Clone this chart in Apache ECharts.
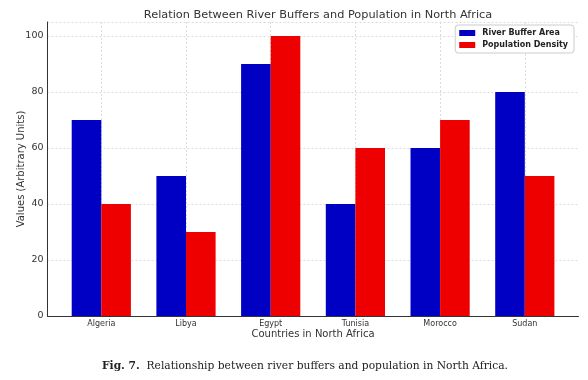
<!DOCTYPE html>
<html>
<head>
<meta charset="utf-8">
<script src="https://cdn.jsdelivr.net/npm/echarts@6/dist/echarts.min.js"></script>
<style>html,body{margin:0;padding:0;background:#fff}#c{width:588px;height:380px}</style>
</head>
<body>
<div id="c"></div>
<script>
const categories = ['Algeria', 'Libya', 'Egypt', 'Tunisia', 'Morocco', 'Sudan'];
const riverBufferArea = [70, 50, 90, 40, 60, 80];
const populationDensity = [40, 30, 100, 60, 70, 50];
const yTicks = [0, 20, 40, 60, 80, 100];

const chart = echarts.init(document.getElementById('c'), null, {renderer: 'canvas'});
const font = 'DejaVu Sans';
const grid = {color: '#d4d4d4', type: [2, 2], width: 0.8};
const axisLine = {show: true, lineStyle: {color: '#333', width: 1}};

chart.setOption({
  animation: false,
  backgroundColor: '#fff',
  title: [
    {text: 'Relation Between River Buffers and Population in North Africa', left: 313, textAlign: 'center', top: 5,
     textStyle: {fontFamily: font, fontSize: 11.3, fontWeight: 'normal', color: '#333'}},
    {text: '{b|Fig. 7.}  Relationship between river buffers and population in North Africa.', left: 97, top: 356,
     textStyle: {fontFamily: 'DejaVu Serif', fontSize: 10.7, fontWeight: 'normal', color: '#222',
       rich: {b: {fontFamily: 'DejaVu Serif', fontSize: 10.7, fontWeight: 'bold', color: '#222'}}}}
  ],
  legend: {
    orient: 'vertical', right: 14, top: 25, padding: [4, 6, 4, 4], itemGap: 4,
    itemWidth: 16, itemHeight: 6, borderColor: '#ccc', borderWidth: 1, borderRadius: 3,
    backgroundColor: '#fff', icon: 'rect',
    textStyle: {fontFamily: font, fontSize: 8, fontWeight: 'bold', color: '#222', padding: [0, 0, 0, 2]},
    data: ['River Buffer Area', 'Population Density']
  },
  grid: [
    {left: 101.3, right: 63.2, top: 22, bottom: 64},
    {left: 47.5, right: 9.5, top: 22, bottom: 64}
  ],
  xAxis: [
    {type: 'category', gridIndex: 0, data: categories, boundaryGap: false,
     axisLine: {show: false}, axisTick: {show: false},
     axisLabel: {fontFamily: font, fontSize: 8, color: '#333', margin: 4},
     splitLine: {show: true, lineStyle: grid}, z: 1},
    {type: 'value', gridIndex: 1, min: 0, max: 1, axisLine: axisLine, axisTick: {show: false},
     axisLabel: {show: false}, splitLine: {show: false},
     name: 'Countries in North Africa', nameLocation: 'middle', nameGap: 13, nameMoveOverlap: false,
     nameTextStyle: {fontFamily: font, fontSize: 10, color: '#333', verticalAlign: 'top'}}
  ],
  yAxis: [
    {type: 'value', gridIndex: 0, min: 0, max: 105, interval: 20, show: false, splitLine: {show: false}},
    {type: 'value', gridIndex: 1, min: 0, max: 105, interval: 20, axisLine: axisLine,
     axisTick: {show: false},
     axisLabel: {fontFamily: font, fontSize: 9.5, color: '#333', margin: 4,
       formatter: v => yTicks.includes(v) ? String(v) : ''},
     splitLine: {show: true, lineStyle: grid},
     name: 'Values (Arbitrary Units)', nameLocation: 'middle', nameGap: 21, nameMoveOverlap: false,
     nameTextStyle: {fontFamily: font, fontSize: 10, color: '#333'}}
  ],
  series: [
    {name: 'River Buffer Area', type: 'bar', xAxisIndex: 0, yAxisIndex: 0, data: riverBufferArea,
     barWidth: 29.6, barGap: '0%', clip: false, itemStyle: {color: '#0000c4'}, z: 3},
    {name: 'Population Density', type: 'bar', xAxisIndex: 0, yAxisIndex: 0, data: populationDensity,
     barWidth: 29.6, barGap: '0%', clip: false, itemStyle: {color: '#ee0000'}, z: 3}
  ]
});
</script>
</body>
</html>
